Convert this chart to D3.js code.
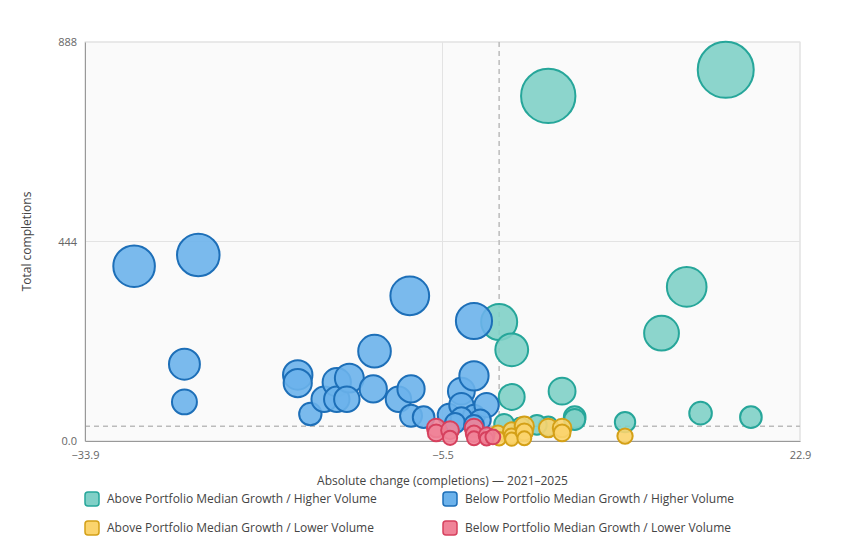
<!DOCTYPE html>
<html><head><meta charset="utf-8">
<script src="https://cdn.jsdelivr.net/npm/d3@7"></script>
<style>body{margin:0;background:#fff;font-family:"Open Sans",sans-serif}</style>
</head><body><svg id="c" width="844" height="544"></svg>
<script>
const seriesNames=["Above Portfolio Median Growth / Higher Volume","Below Portfolio Median Growth / Higher Volume","Above Portfolio Median Growth / Lower Volume","Below Portfolio Median Growth / Lower Volume"];
const fills=["#80d0c7","#6cb2eb","#fbd46d","#f08398"];
const strokes=["#26a69a","#1d6fb8","#d4a017","#d6415e"];
const aboveHigh=[[17.0,826],[2.9,768],[13.9,343],[11.9,240],[-1.0,265],[0.0,203],[0.0,98],[4.0,111],[5.0,53],[15.0,62],[19.0,53],[9.0,42],[2.9,33],[2.0,36],[0.7,31],[-0.6,38],[5.0,48]];
const belowHigh=[[-30.0,389],[-24.9,414],[-26.0,171],[-26.0,87],[-17.0,147],[-17.0,129],[-16.0,60],[-14.9,93],[-13.9,131],[-13.9,93],[-12.9,140],[-13.1,93],[-10.9,200],[-11.0,116],[-9.0,93],[-8.1,323],[-8.0,116],[-8.0,56],[-7.0,53],[-5.0,58],[-4.0,111],[-4.0,80],[-3.0,267],[-3.0,145],[-3.0,56],[-2.0,80],[-4.0,51],[-2.5,47],[-4.5,40],[-3.0,36]];
const aboveLow=[[-1.1,16],[-1.0,5],[0.0,22],[0.0,11],[0.0,4],[1.0,33],[1.0,20],[1.0,6],[2.9,29],[4.0,29],[4.0,18],[9.0,11]];
const belowLow=[[-6.0,29],[-6.0,18],[-4.9,24],[-4.9,7],[-3.0,29],[-3.0,16],[-3.0,6],[-2.0,13],[-2.0,5],[-1.5,9]];
const xTicks=[-33.9,-5.5,22.9], yTicks=[0,444,888];
const medX=-1.0, medY=33;
const allSeries=[aboveHigh,belowHigh,aboveLow,belowLow];

const svg=d3.select("#c");
const L=85,R=800,T=42,B=441;
const x=d3.scaleLinear().domain([-33.9,22.9]).range([L,R]);
const y=d3.scaleLinear().domain([0,888]).range([B,T]);
const r=d3.scaleSqrt().domain([0,826]).range([5,28]);
svg.append("rect").attr("x",L).attr("y",T).attr("width",R-L).attr("height",B-T).attr("fill","#fafafa").attr("stroke","#e0e0e0");
const g=svg.append("g");
yTicks.forEach(t=>g.append("line").attr("x1",L).attr("x2",R).attr("y1",y(t)).attr("y2",y(t)).attr("stroke","#e3e3e3"));
xTicks.forEach(t=>g.append("line").attr("y1",T).attr("y2",B).attr("x1",x(t)).attr("x2",x(t)).attr("stroke","#e3e3e3"));
g.append("line").attr("x1",x(medX)).attr("x2",x(medX)).attr("y1",T).attr("y2",B).attr("stroke","#bbb").attr("stroke-dasharray","5,4").attr("stroke-width",1.5);
g.append("line").attr("x1",L).attr("x2",R).attr("y1",y(medY)).attr("y2",y(medY)).attr("stroke","#bbb").attr("stroke-dasharray","5,4").attr("stroke-width",1.5);
const xa=svg.append("g").attr("transform",`translate(0,${B})`).call(d3.axisBottom(x).tickValues(xTicks).tickFormat(d3.format(".1f")).tickSize(0).tickPadding(10));
const ya=svg.append("g").attr("transform",`translate(${L},0)`).call(d3.axisLeft(y).tickValues(yTicks).tickFormat((d,i)=>d===0?"0.0":d).tickSize(0).tickPadding(8));
[xa,ya].forEach(a=>{a.selectAll("text").attr("fill","#666").style("font-size","11px").style("font-family","Open Sans");a.select(".domain").attr("stroke","#999");});
allSeries.forEach((s,i)=>{
  svg.append("g").selectAll("circle").data(s).join("circle")
   .attr("cx",d=>x(d[0])).attr("cy",d=>y(d[1])).attr("r",d=>r(d[1]))
   .attr("fill",fills[i]).attr("fill-opacity",0.9).attr("stroke",strokes[i]).attr("stroke-width",2);
});
svg.append("text").attr("x",(L+R)/2).attr("y",485).attr("text-anchor","middle").attr("fill","#444").style("font-size","12px").text("Absolute change (completions) — 2021–2025");
svg.append("text").attr("transform",`translate(31,${(T+B)/2}) rotate(-90)`).attr("text-anchor","middle").attr("fill","#444").style("font-size","12px").text("Total completions");
const pos=[[85,499],[443,499],[85,528],[443,528]];
seriesNames.forEach((n,i)=>{
  const lg=svg.append("g").attr("transform",`translate(${pos[i][0]},${pos[i][1]})`);
  lg.append("rect").attr("x",0).attr("y",-7).attr("width",14).attr("height",14).attr("rx",3).attr("fill",fills[i]).attr("stroke",strokes[i]).attr("stroke-width",1.5);
  lg.append("text").attr("x",22).attr("y",4).attr("fill","#444").style("font-size","12px").text(n);
});
</script></body></html>
